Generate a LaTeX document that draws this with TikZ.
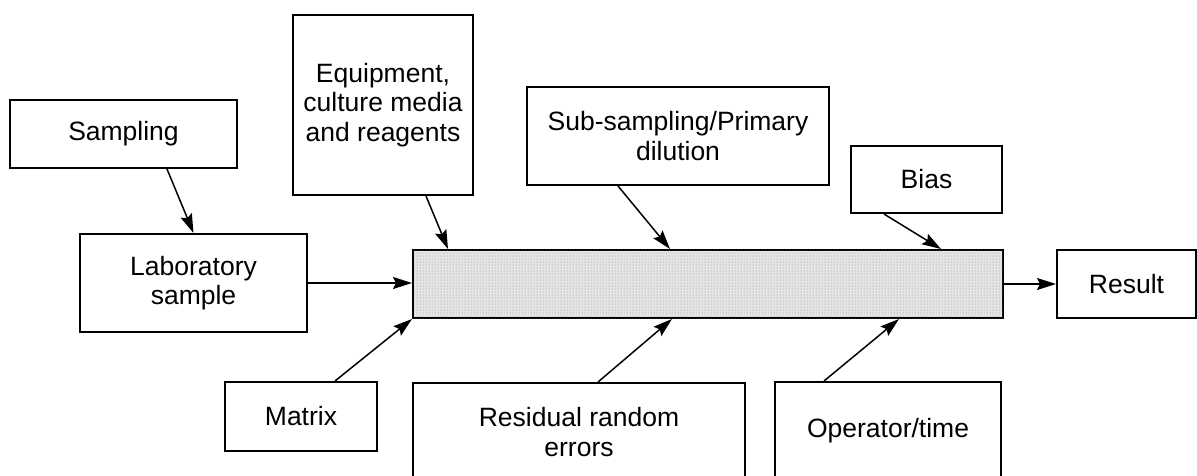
\documentclass[tikz,border=0pt]{standalone}
\usepackage{fontspec}
\setmainfont{Liberation Sans}
\usetikzlibrary{arrows.meta,patterns}
\begin{document}
\begin{tikzpicture}[x=1pt,y=-1pt,
  box/.style={draw=black,line width=2pt,rectangle,inner sep=0pt,align=center,
    font=\fontsize{26.5}{29.5}\selectfont},
  arr/.style={line width=1.5pt,-{Stealth[length=19pt,width=12pt,inset=3pt]}}]
\useasboundingbox (0,0) rectangle (1197,475);
\node[box,minimum width=227pt,minimum height=68pt] (samp) at (123.5,134) {Sampling};
\node[box,minimum width=227pt,minimum height=98pt] (lab) at (193.5,283) {Laboratory\\sample};
\node[box,minimum width=180pt,minimum height=180pt] (equip) at (383,105) {Equipment,\\culture media\\and reagents};
\node[box,minimum width=302pt,minimum height=98pt] (sub) at (678,136) {Sub-sampling/Primary\\dilution};
\node[box,minimum width=151pt,minimum height=67pt] (bias) at (926.5,179.5) {Bias};
\node[box,minimum width=590pt,minimum height=68pt,fill=black!10,
  postaction={pattern=dots,pattern color=black!45}] (bar) at (708,284) {};
\node[box,minimum width=139pt,minimum height=68pt] (res) at (1126.5,284) {Result};
\node[box,minimum width=152pt,minimum height=69pt] (mat) at (301,416.5) {Matrix};
\node[box,minimum width=332pt,minimum height=98pt] (resid) at (579,432) {Residual random\\errors};
\node[box,minimum width=226pt,minimum height=98pt] (oper) at (888,431) {Operator/time};
\draw[arr] ([xshift=43.5pt]samp.south) -- (lab.north);
\draw[arr] (lab.east) -- (lab.east -| bar.west);
\draw[arr] ([xshift=43pt]equip.south) -- ([xshift=36pt]bar.north west);
\draw[arr] ([xshift=-60pt]sub.south) -- ([xshift=258pt]bar.north west);
\draw[arr] ([xshift=-42.5pt]bias.south) -- ([xshift=-63pt]bar.north east);
\draw[arr] (bar.east) -- (res.west);
\draw[arr] ([xshift=34pt]mat.north) -- (bar.south west);
\draw[arr] ([xshift=19pt]resid.north) -- ([xshift=260pt]bar.south west);
\draw[arr] ([xshift=-64pt]oper.north) -- ([xshift=487pt]bar.south west);
\end{tikzpicture}
\end{document}
